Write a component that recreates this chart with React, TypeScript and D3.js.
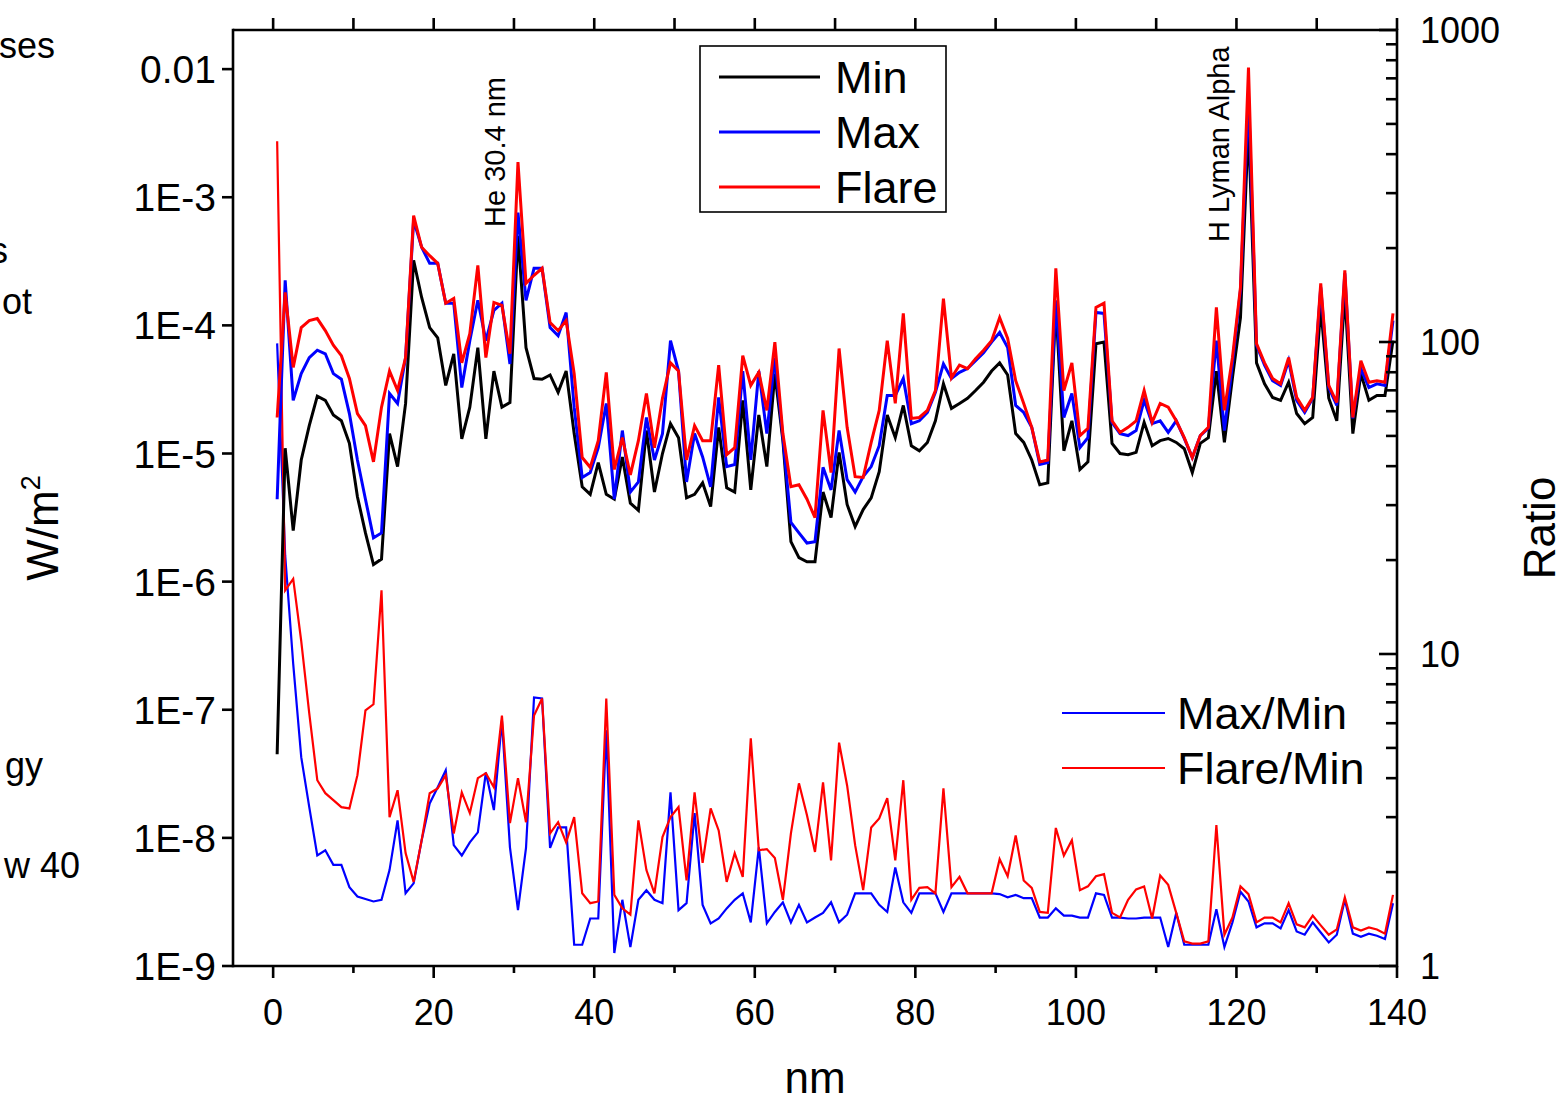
import React from 'react';
import * as d3 from 'd3';

// Bin centres of the 1 nm spectral bins
const WAVELENGTH_NM = [
  0.5, 1.5, 2.5, 3.5, 4.5, 5.5, 6.5, 7.5, 8.5, 9.5,
  10.5, 11.5, 12.5, 13.5, 14.5, 15.5, 16.5, 17.5, 18.5, 19.5,
  20.5, 21.5, 22.5, 23.5, 24.5, 25.5, 26.5, 27.5, 28.5, 29.5,
  30.5, 31.5, 32.5, 33.5, 34.5, 35.5, 36.5, 37.5, 38.5, 39.5,
  40.5, 41.5, 42.5, 43.5, 44.5, 45.5, 46.5, 47.5, 48.5, 49.5,
  50.5, 51.5, 52.5, 53.5, 54.5, 55.5, 56.5, 57.5, 58.5, 59.5,
  60.5, 61.5, 62.5, 63.5, 64.5, 65.5, 66.5, 67.5, 68.5, 69.5,
  70.5, 71.5, 72.5, 73.5, 74.5, 75.5, 76.5, 77.5, 78.5, 79.5,
  80.5, 81.5, 82.5, 83.5, 84.5, 85.5, 86.5, 87.5, 88.5, 89.5,
  90.5, 91.5, 92.5, 93.5, 94.5, 95.5, 96.5, 97.5, 98.5, 99.5,
  100.5, 101.5, 102.5, 103.5, 104.5, 105.5, 106.5, 107.5, 108.5, 109.5,
  110.5, 111.5, 112.5, 113.5, 114.5, 115.5, 116.5, 117.5, 118.5, 119.5,
  120.5, 121.5, 122.5, 123.5, 124.5, 125.5, 126.5, 127.5, 128.5, 129.5,
  130.5, 131.5, 132.5, 133.5, 134.5, 135.5, 136.5, 137.5, 138.5, 139.5,
];

// Irradiance per bin, W/m^2
const MIN_FLUX = [
  4.5e-8, 1.1e-5, 2.5e-6, 8.9e-6, 1.65e-5, 2.8e-5, 2.6e-5, 2.0e-5, 1.8e-5, 1.2e-5,
  4.6e-6, 2.4e-6, 1.36e-6, 1.5e-6, 1.43e-5, 7.9e-6, 2.46e-5, 3.22e-4, 1.65e-4, 9.6e-5,
  8.0e-5, 3.4e-5, 6.0e-5, 1.3e-5, 2.3e-5, 6.7e-5, 1.3e-5, 4.4e-5, 2.3e-5, 2.5e-5,
  5.0e-4, 6.7e-5, 3.85e-5, 3.8e-5, 4.1e-5, 3.0e-5, 4.4e-5, 1.43e-5, 5.5e-6, 4.8e-6,
  8.5e-6, 4.8e-6, 4.4e-6, 9.4e-6, 4.1e-6, 3.6e-6, 1.51e-5, 5.0e-6, 1.0e-5, 1.71e-5,
  1.33e-5, 4.5e-6, 4.8e-6, 5.9e-6, 3.85e-6, 1.6e-5, 5.4e-6, 5.0e-6, 2.6e-5, 5.2e-6,
  2.0e-5, 7.9e-6, 4.2e-5, 1.26e-5, 2.05e-6, 1.54e-6, 1.43e-6, 1.43e-6, 5.0e-6, 3.16e-6,
  1.02e-5, 4.0e-6, 2.69e-6, 3.65e-6, 4.5e-6, 7.2e-6, 2.0e-5, 1.33e-5, 2.37e-5, 1.15e-5,
  1.05e-5, 1.22e-5, 1.8e-5, 3.5e-5, 2.25e-5, 2.46e-5, 2.7e-5, 3.1e-5, 3.6e-5, 4.4e-5,
  5.1e-5, 4.1e-5, 1.43e-5, 1.22e-5, 8.9e-6, 5.7e-6, 5.9e-6, 1.43e-4, 1.05e-5, 1.8e-5,
  7.5e-6, 8.6e-6, 7.2e-5, 7.4e-5, 1.2e-5, 1.0e-5, 9.8e-6, 1.02e-5, 1.75e-5, 1.15e-5,
  1.26e-5, 1.31e-5, 1.22e-5, 1.09e-5, 7.1e-6, 1.2e-5, 1.33e-5, 4.4e-5, 1.22e-5, 3.9e-5,
  1.15e-4, 3.65e-3, 5.1e-5, 3.5e-5, 2.74e-5, 2.6e-5, 3.6e-5, 2.05e-5, 1.71e-5, 1.91e-5,
  1.38e-4, 2.7e-5, 1.8e-5, 1.78e-4, 1.43e-5, 4.2e-5, 2.6e-5, 2.84e-5, 2.84e-5, 7.6e-5,
];

const MAX_FLUX = [
  4.4e-6, 2.25e-4, 2.6e-5, 4.2e-5, 5.6e-5, 6.4e-5, 6.0e-5, 4.2e-5, 3.8e-5, 2.05e-5,
  8.9e-6, 4.4e-6, 2.2e-6, 2.4e-6, 2.94e-5, 2.46e-5, 5.6e-5, 6.6e-4, 4.07e-4, 3.05e-4,
  3.05e-4, 1.49e-4, 1.49e-4, 3.27e-5, 7.6e-5, 1.57e-4, 7.6e-5, 1.31e-4, 1.49e-4, 5.0e-5,
  7.6e-4, 1.57e-4, 2.79e-4, 2.79e-4, 9.6e-5, 8.3e-5, 1.26e-4, 2.3e-5, 6.5e-6, 7.1e-6,
  1.11e-5, 2.46e-5, 4.4e-6, 1.51e-5, 5.0e-6, 6.0e-6, 1.91e-5, 8.9e-6, 1.43e-5, 7.6e-5,
  4.4e-5, 6.0e-6, 1.43e-5, 9.4e-6, 5.5e-6, 2.74e-5, 7.9e-6, 8.2e-6, 4.4e-5, 8.9e-6,
  4.4e-5, 1.43e-5, 5.6e-5, 1.33e-5, 2.9e-6, 2.4e-6, 2.0e-6, 2.05e-6, 7.8e-6, 5.2e-6,
  1.51e-5, 6.25e-6, 5.0e-6, 6.6e-6, 7.9e-6, 1.15e-5, 2.84e-5, 2.84e-5, 3.85e-5, 1.71e-5,
  1.8e-5, 2.09e-5, 3.0e-5, 5.0e-5, 3.85e-5, 4.3e-5, 4.6e-5, 5.3e-5, 6.1e-5, 7.4e-5,
  8.8e-5, 6.7e-5, 2.37e-5, 2.09e-5, 1.6e-5, 8.2e-6, 8.5e-6, 1.57e-4, 1.91e-5, 2.94e-5,
  1.11e-5, 1.33e-5, 1.26e-4, 1.24e-4, 1.75e-5, 1.43e-5, 1.38e-5, 1.51e-5, 2.6e-5, 1.71e-5,
  1.8e-5, 1.46e-5, 1.8e-5, 1.31e-5, 9.3e-6, 1.38e-5, 1.57e-5, 7.6e-5, 1.51e-5, 5.0e-5,
  1.88e-4, 6.25e-3, 7.0e-5, 4.9e-5, 3.7e-5, 3.4e-5, 5.3e-5, 2.6e-5, 2.09e-5, 2.7e-5,
  1.98e-4, 3.27e-5, 2.37e-5, 2.55e-4, 1.88e-5, 4.6e-5, 3.27e-5, 3.5e-5, 3.4e-5, 1.09e-4,
];

const FLARE_FLUX = [
  1.91e-5, 1.81e-4, 4.7e-5, 9.6e-5, 1.09e-4, 1.13e-4, 9.1e-5, 7.0e-5, 5.8e-5, 3.85e-5,
  2.05e-5, 1.65e-5, 8.6e-6, 2.3e-5, 4.4e-5, 3.1e-5, 5.6e-5, 7.2e-4, 4.07e-4, 3.5e-4,
  3.05e-4, 1.49e-4, 1.62e-4, 5.1e-5, 8.6e-5, 2.94e-4, 5.6e-5, 1.51e-4, 1.43e-4, 6.0e-5,
  1.88e-3, 2.13e-4, 2.46e-4, 2.79e-4, 1.05e-4, 9.1e-5, 1.09e-4, 4.2e-5, 9.3e-6, 7.8e-6,
  1.26e-5, 4.3e-5, 7.5e-6, 1.33e-5, 6.8e-6, 1.26e-5, 2.94e-5, 1.11e-5, 2.7e-5, 5.1e-5,
  4.4e-5, 8.9e-6, 1.65e-5, 1.26e-5, 1.26e-5, 4.9e-5, 9.8e-6, 1.11e-5, 5.8e-5, 3.4e-5,
  4.3e-5, 2.17e-5, 7.4e-5, 1.43e-5, 5.5e-6, 5.7e-6, 4.4e-6, 3.16e-6, 2.17e-5, 7.1e-6,
  6.6e-5, 1.6e-5, 6.6e-6, 6.5e-6, 1.22e-5, 2.17e-5, 7.6e-5, 2.46e-5, 1.24e-4, 1.88e-5,
  1.91e-5, 2.17e-5, 3.1e-5, 1.62e-4, 3.9e-5, 4.9e-5, 4.6e-5, 5.5e-5, 6.4e-5, 7.6e-5,
  1.15e-4, 7.9e-5, 3.7e-5, 2.46e-5, 1.6e-5, 8.6e-6, 8.9e-6, 2.79e-4, 3.1e-5, 5.1e-5,
  1.38e-5, 1.57e-5, 1.38e-4, 1.49e-4, 1.8e-5, 1.46e-5, 1.6e-5, 1.8e-5, 3.1e-5, 1.75e-5,
  2.46e-5, 2.3e-5, 1.8e-5, 1.33e-5, 9.3e-6, 1.38e-5, 1.6e-5, 1.38e-4, 2.17e-5, 5.6e-5,
  1.98e-4, 1.03e-2, 7.2e-5, 5.1e-5, 3.85e-5, 3.5e-5, 5.6e-5, 2.74e-5, 2.17e-5, 2.74e-5,
  2.13e-4, 3.4e-5, 2.5e-5, 2.69e-4, 1.91e-5, 5.3e-5, 3.6e-5, 3.7e-5, 3.6e-5, 1.24e-4,
];

// Ratios, plotted against the right-hand axis
const MAX_MIN_RATIO = [
  99, 20.7, 9.3, 4.67, 3.23, 2.26, 2.35, 2.11, 2.11, 1.79,
  1.67, 1.64, 1.61, 1.63, 2.03, 2.93, 1.71, 1.84, 2.53, 3.32,
  3.74, 4.24, 2.44, 2.26, 2.49, 2.68, 4.17, 3.16, 6.13, 2.4,
  1.51, 2.39, 7.26, 7.2, 2.39, 2.78, 2.78, 1.17, 1.17, 1.42,
  1.42, 5.7, 1.1, 1.63, 1.15, 1.63, 1.75, 1.63, 1.59, 3.6,
  1.51, 1.59, 3.09, 1.57, 1.37, 1.42, 1.53, 1.63, 1.71, 1.38,
  2.4, 1.37, 1.49, 1.6, 1.38, 1.57, 1.38, 1.43, 1.48, 1.6,
  1.38, 1.46, 1.71, 1.71, 1.71, 1.57, 1.49, 2.07, 1.6, 1.48,
  1.71, 1.71, 1.71, 1.49, 1.71, 1.71, 1.71, 1.71, 1.71, 1.71,
  1.7, 1.66, 1.69, 1.65, 1.65, 1.43, 1.43, 1.53, 1.45, 1.45,
  1.43, 1.43, 1.71, 1.69, 1.43, 1.43, 1.42, 1.42, 1.43, 1.43,
  1.43, 1.15, 1.48, 1.17, 1.17, 1.17, 1.17, 1.52, 1.15, 1.38,
  1.73, 1.61, 1.33, 1.37, 1.37, 1.32, 1.51, 1.29, 1.26, 1.38,
  1.28, 1.19, 1.26, 1.63, 1.27, 1.24, 1.27, 1.25, 1.22, 1.59,
];

const FLARE_MIN_RATIO = [
  440, 16.0, 17.4, 11.0, 6.45, 3.94, 3.58, 3.4, 3.23, 3.2,
  4.09, 6.6, 6.9, 16.0, 3.0, 3.66, 2.3, 1.86, 2.53, 3.58,
  3.71, 4.09, 2.66, 3.6, 3.09, 4.0, 4.15, 3.74, 6.35, 2.87,
  4.0, 2.89, 6.35, 7.2, 2.66, 2.89, 2.49, 3.0, 1.71, 1.59,
  1.61, 7.2, 1.69, 1.53, 1.46, 2.93, 2.03, 1.71, 2.59, 3.0,
  3.23, 1.88, 3.6, 2.14, 3.2, 2.72, 1.86, 2.3, 1.93, 5.37,
  2.35, 2.37, 2.22, 1.63, 2.66, 3.85, 3.04, 2.32, 3.88, 2.18,
  5.2, 3.79, 2.44, 1.75, 2.78, 2.97, 3.45, 2.18, 3.94, 1.63,
  1.78, 1.79, 1.71, 3.71, 1.79, 1.93, 1.71, 1.71, 1.71, 1.71,
  2.2, 1.94, 2.62, 1.88, 1.78, 1.49, 1.48, 2.77, 2.26, 2.53,
  1.75, 1.8, 1.94, 1.97, 1.48, 1.43, 1.63, 1.76, 1.8, 1.42,
  1.95, 1.82, 1.48, 1.2, 1.18, 1.18, 1.2, 2.83, 1.26, 1.43,
  1.8, 1.7, 1.38, 1.43, 1.43, 1.38, 1.59, 1.36, 1.33, 1.45,
  1.35, 1.26, 1.31, 1.66, 1.33, 1.3, 1.33, 1.31, 1.27, 1.69,
];

const FLUX_TICKS = [1e-9, 1e-8, 1e-7, 1e-6, 1e-5, 1e-4, 1e-3, 1e-2];
const FLUX_TICK_LABELS = ['1E-9', '1E-8', '1E-7', '1E-6', '1E-5', '1E-4', '1E-3', '0.01'];
const RATIO_TICKS = [1, 10, 100, 1000];
const RATIO_TICK_LABELS = ['1', '10', '100', '1000'];
const NM_TICKS = [0, 20, 40, 60, 80, 100, 120, 140];
const NM_MINOR_TICKS = [10, 30, 50, 70, 90, 110, 130];

const FLUX_LEGEND = [
  { label: 'Min', color: '#000000' },
  { label: 'Max', color: '#0000ff' },
  { label: 'Flare', color: '#ff0000' },
];
const RATIO_LEGEND = [
  { label: 'Max/Min', color: '#0000ff' },
  { label: 'Flare/Min', color: '#ff0000' },
];

// Text of the neighbouring page column that runs into the left edge
const SIDE_TEXT = [
  { text: 'ses', x: 55, y: 58 },
  { text: 's', x: 8, y: 263 },
  { text: 'ot', x: 32, y: 314 },
  { text: 'gy', x: 43, y: 778 },
  { text: 'w 40', x: 80, y: 878 },
];

const FONT = '"Liberation Sans", Arial, Helvetica, sans-serif';

export default function App() {
  const W = 1563;
  const H = 1100;
  const plot = { left: 233, right: 1397, top: 30, bottom: 966 };

  const x = d3.scaleLinear().domain([-5, 140]).range([plot.left, plot.right]);
  const yFlux = d3.scaleLog().domain([1e-9, 0.0202]).range([plot.bottom, plot.top]);
  const yRatio = d3.scaleLog().domain([1, 1000]).range([plot.bottom, plot.top]);

  const fluxLine = d3
    .line<number>()
    .x((_, i) => x(WAVELENGTH_NM[i]))
    .y((d) => yFlux(d));
  const ratioLine = d3
    .line<number>()
    .x((_, i) => x(WAVELENGTH_NM[i]))
    .y((d) => yRatio(d));

  const ratioMinor: number[] = [];
  [1, 10, 100].forEach((dec) => {
    for (let k = 2; k <= 9; k++) ratioMinor.push(dec * k);
  });

  const axisStroke = 2.6;

  return (
    <svg
      width={W}
      height={H}
      viewBox={`0 0 ${W} ${H}`}
      style={{ position: 'absolute', left: 0, top: 0, background: '#fff' }}
      fontFamily={FONT}
    >
      <rect x={0} y={0} width={W} height={H} fill="#fff" />
      <defs>
        <clipPath id="plot-clip">
          <rect x={plot.left} y={plot.top} width={plot.right - plot.left} height={plot.bottom - plot.top} />
        </clipPath>
      </defs>

      {SIDE_TEXT.map((t) => (
        <text key={t.text + t.y} x={t.x} y={t.y} fontSize={36} textAnchor="end" fill="#000">
          {t.text}
        </text>
      ))}

      {/* Data lines */}
      <g clipPath="url(#plot-clip)" fill="none" strokeLinejoin="miter" strokeLinecap="butt">
        <path d={ratioLine(MAX_MIN_RATIO) ?? ''} stroke="#0000ff" strokeWidth={2.2} />
        <path d={ratioLine(FLARE_MIN_RATIO) ?? ''} stroke="#ff0000" strokeWidth={2.2} />
        <path d={fluxLine(MIN_FLUX) ?? ''} stroke="#000000" strokeWidth={3} />
        <path d={fluxLine(MAX_FLUX) ?? ''} stroke="#0000ff" strokeWidth={3} />
        <path d={fluxLine(FLARE_FLUX) ?? ''} stroke="#ff0000" strokeWidth={3} />
      </g>

      {/* Frame */}
      <g stroke="#000" strokeWidth={axisStroke} fill="none">
        <line x1={plot.left} x2={plot.right} y1={plot.bottom} y2={plot.bottom} />
        <line x1={plot.left} x2={plot.right} y1={plot.top} y2={plot.top} />
        <line x1={plot.left} x2={plot.left} y1={plot.top - 1.3} y2={plot.bottom + 1.3} />
        <line x1={plot.right} x2={plot.right} y1={plot.top - 1.3} y2={plot.bottom + 1.3} />
      </g>

      {/* Bottom and top axis ticks */}
      <g stroke="#000" strokeWidth={axisStroke}>
        {NM_TICKS.map((t) => (
          <line key={'b' + t} x1={x(t)} x2={x(t)} y1={plot.bottom} y2={plot.bottom + 12} />
        ))}
        {NM_MINOR_TICKS.map((t) => (
          <line key={'bm' + t} x1={x(t)} x2={x(t)} y1={plot.bottom} y2={plot.bottom + 7} />
        ))}
        {NM_TICKS.map((t) => (
          <line key={'t' + t} x1={x(t)} x2={x(t)} y1={plot.top} y2={plot.top - 12} />
        ))}
        {NM_MINOR_TICKS.map((t) => (
          <line key={'tm' + t} x1={x(t)} x2={x(t)} y1={plot.top} y2={plot.top - 12} />
        ))}
      </g>
      {NM_TICKS.map((t) => (
        <text key={'bl' + t} x={x(t)} y={1025} fontSize={36} textAnchor="middle" fill="#000">
          {t}
        </text>
      ))}
      <text x={x(67.5)} y={1093} fontSize={44} textAnchor="middle" fill="#000">
        nm
      </text>

      {/* Left (flux) axis */}
      <g stroke="#000" strokeWidth={axisStroke}>
        {FLUX_TICKS.map((t) => (
          <line key={'l' + t} x1={plot.left - 11} x2={plot.left} y1={yFlux(t)} y2={yFlux(t)} />
        ))}
      </g>
      {FLUX_TICKS.map((t, i) => (
        <text
          key={'ll' + t}
          x={216}
          y={yFlux(t)}
          dy="0.36em"
          fontSize={39}
          textAnchor="end"
          fill="#000"
        >
          {FLUX_TICK_LABELS[i]}
        </text>
      ))}
      <text
        transform={`translate(58, 528) rotate(-90)`}
        fontSize={44}
        textAnchor="middle"
        fill="#000"
      >
        W/m<tspan fontSize={27} dy={-18}>2</tspan>
      </text>

      {/* Right (ratio) axis */}
      <g stroke="#000" strokeWidth={axisStroke}>
        {RATIO_TICKS.map((t) => (
          <line key={'r' + t} x1={plot.right - 18} x2={plot.right} y1={yRatio(t)} y2={yRatio(t)} />
        ))}
        {ratioMinor.map((t) => (
          <line key={'rm' + t} x1={plot.right - 11} x2={plot.right} y1={yRatio(t)} y2={yRatio(t)} />
        ))}
      </g>
      {RATIO_TICKS.map((t, i) => (
        <text key={'rl' + t} x={1420} y={yRatio(t)} dy="0.36em" fontSize={36} textAnchor="start" fill="#000">
          {RATIO_TICK_LABELS[i]}
        </text>
      ))}
      <text
        transform={`translate(1555, 528) rotate(-90)`}
        fontSize={44}
        textAnchor="middle"
        fill="#000"
      >
        Ratio
      </text>

      {/* Line annotations */}
      <text transform="translate(505, 227) rotate(-90)" fontSize={29} fill="#000">
        He 30.4 nm
      </text>
      <text transform="translate(1229, 242) rotate(-90)" fontSize={29} fill="#000">
        H Lyman Alpha
      </text>

      {/* Flux legend */}
      <rect x={700} y={46} width={246} height={166} fill="#fff" stroke="#000" strokeWidth={1.6} />
      {FLUX_LEGEND.map((item, i) => (
        <g key={item.label}>
          <line x1={719} x2={820} y1={77 + i * 55} y2={77 + i * 55} stroke={item.color} strokeWidth={3} />
          <text x={835} y={77 + i * 55} dy="0.36em" fontSize={45} fill="#000">
            {item.label}
          </text>
        </g>
      ))}

      {/* Ratio legend */}
      {RATIO_LEGEND.map((item, i) => (
        <g key={item.label}>
          <line x1={1062} x2={1165} y1={713 + i * 55} y2={713 + i * 55} stroke={item.color} strokeWidth={2.2} />
          <text x={1177} y={713 + i * 55} dy="0.36em" fontSize={45} fill="#000">
            {item.label}
          </text>
        </g>
      ))}
    </svg>
  );
}
